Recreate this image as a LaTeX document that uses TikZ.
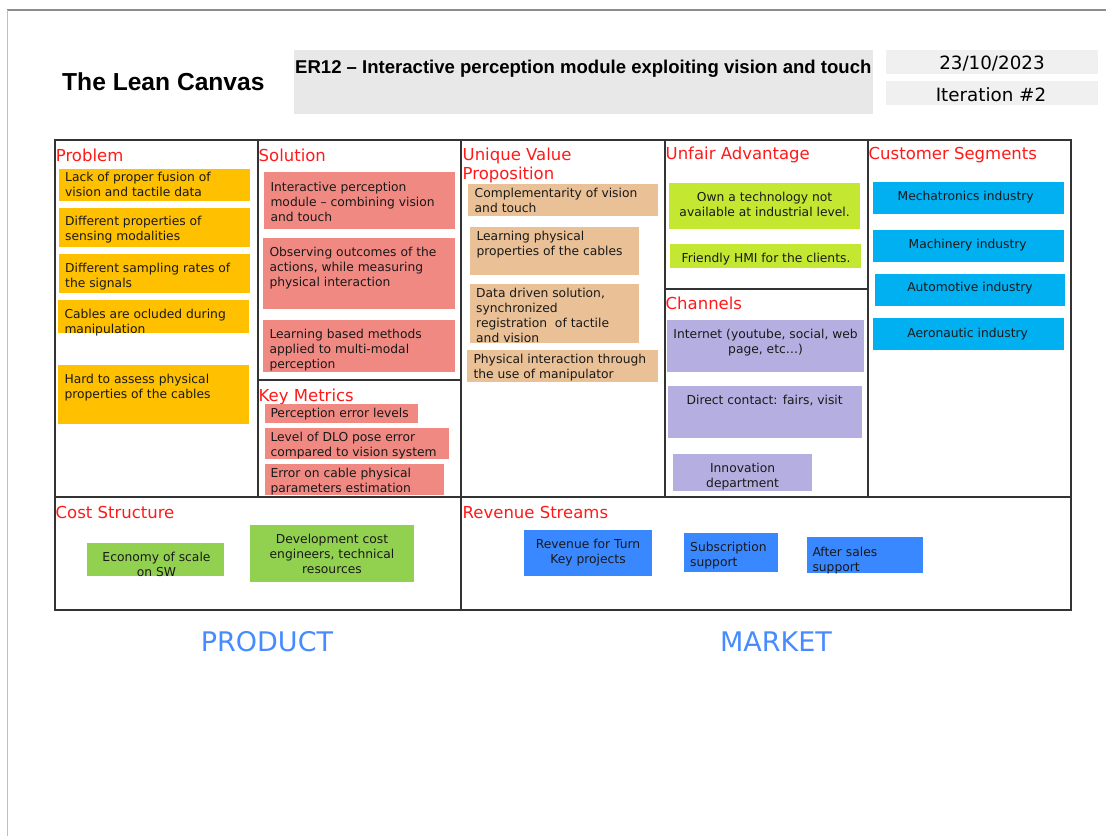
\documentclass[tikz,border=0pt]{standalone}
\usepackage{fontspec}
\setmainfont{DejaVu Sans}
\newfontfamily\arialfont{Liberation Sans}

\definecolor{probfill}{RGB}{255,192,0}
\definecolor{solfill}{RGB}{241,137,131}
\definecolor{uvpfill}{RGB}{234,193,150}
\definecolor{advfill}{RGB}{196,232,50}
\definecolor{chanfill}{RGB}{181,174,224}
\definecolor{custfill}{RGB}{0,176,240}
\definecolor{costfill}{RGB}{146,208,80}
\definecolor{revfill}{RGB}{58,136,255}
\definecolor{headred}{RGB}{255,25,25}
\definecolor{sideblue}{RGB}{70,140,255}

\begin{document}
\begin{tikzpicture}[x=1pt, y=-1pt,
	frame/.style={line width=1.3pt, draw=black!80},
	head/.style={anchor=base west, inner sep=0pt, text=headred, font=\fontsize{16.5}{20}\selectfont},
	txt/.style={anchor=north west, inner sep=0pt, yshift=-1pt, align=left, text=black!90, font=\fontsize{12.3}{15}\selectfont},
	ctxt/.style={txt, anchor=north, align=center},
	side/.style={inner sep=0pt, text=sideblue, font=\fontsize{27}{30}\selectfont}]
	\useasboundingbox (0,0) rectangle (1106,836);
	\fill[white] (0,0) rectangle (1106,836);
	% page edges
	\draw[line width=2pt, black!45] (7,10) -- (1106,10);
	\draw[line width=1pt, black!25] (7.5,10) -- (7.5,836);

	% header
	\node[anchor=base west, inner sep=0pt, font=\arialfont\bfseries\fontsize{24.6}{28}\selectfont] (title) at (62,90) {The Lean Canvas};
	\fill[black!9] (294,50) rectangle (873,114);
	\node[anchor=base west, inner sep=0pt, font=\arialfont\bfseries\fontsize{18.55}{22}\selectfont] (project) at (295,73.3) {ER12 – Interactive perception module exploiting vision and touch};
	\fill[black!6] (886,49.5) rectangle (1098,73.5);
	\node[anchor=base, inner sep=0pt, font=\fontsize{18.3}{22}\selectfont] (date) at (992,69.3) {23/10/2023};
	\fill[black!6] (886,81) rectangle (1098,105);
	\node[anchor=base, inner sep=0pt, font=\fontsize{18.3}{22}\selectfont] (iter) at (991,101) {Iteration \#2};

	% canvas grid
	\draw[frame] (55,140) rectangle (1071,610);
	\draw[frame] (55,497) -- (1071,497);
	\draw[frame] (258,140) -- (258,497);
	\draw[frame] (461,140) -- (461,610);
	\draw[frame] (665,140) -- (665,497);
	\draw[frame] (868,140) -- (868,497);
	\draw[frame] (258,380) -- (461,380);
	\draw[frame] (665,289) -- (868,289);

	% headings
	\node[head] (hprob) at (55.7,161) {Problem};
	\node[head] (hsol) at (258.5,161) {Solution};
	\node[head, anchor=north west, align=left, font=\fontsize{16.5}{19.5}\selectfont] (huvp) at (462.5,147.5) {Unique Value\\Proposition};
	\node[head] (hadv) at (665.5,159.5) {Unfair Advantage};
	\node[head] (hcust) at (868.5,159.5) {Customer Segments};
	\node[head] (hkm) at (258.5,401) {Key Metrics};
	\node[head] (hchan) at (665.5,309) {Channels};
	\node[head] (hcost) at (55.5,518.5) {Cost Structure};
	\node[head] (hrev) at (462.5,518.5) {Revenue Streams};

	% problem
	\fill[probfill] (59,169) rectangle (250,201);
	\node[txt] (prob1) at (65,171) {Lack of proper fusion of\\vision and tactile data};
	\fill[probfill] (59,208) rectangle (250,247);
	\node[txt] (prob2) at (65,215) {Different properties of\\sensing modalities};
	\fill[probfill] (59,254) rectangle (250,293);
	\node[txt] (prob3) at (65,261.5) {Different sampling rates of\\the signals};
	\fill[probfill] (58,300) rectangle (249,333);
	\node[txt] (prob4) at (64.3,308) {Cables are ocluded during\\manipulation};
	\fill[probfill] (58,365) rectangle (249,424);
	\node[txt] (prob5) at (64.3,372.5) {Hard to assess physical\\properties of the cables};

	% solution
	\fill[solfill] (264,172) rectangle (455,229);
	\node[txt] (sol1) at (270.3,180.5) {Interactive perception\\module – combining vision\\and touch};
	\fill[solfill] (263,238) rectangle (455,309);
	\node[txt] (sol2) at (269.3,245.5) {Observing outcomes of the\\actions, while measuring\\physical interaction};
	\fill[solfill] (263,320) rectangle (455,372);
	\node[txt] (sol3) at (269.3,327.5) {Learning based methods\\applied to multi-modal\\perception};

	% key metrics
	\fill[solfill] (265,404) rectangle (418,423);
	\node[txt] (km1) at (270.3,407) {Perception error levels};
	\fill[solfill] (265,428) rectangle (449,459);
	\node[txt] (km2) at (270.3,430.5) {Level of DLO pose error\\compared to vision system};
	\fill[solfill] (265,464) rectangle (444,495);
	\node[txt] (km3) at (270.3,466.5) {Error on cable physical\\parameters estimation};

	% unique value proposition
	\fill[uvpfill] (468,184) rectangle (658,216);
	\node[txt] (uvp1) at (474.5,187) {Complementarity of vision\\and touch};
	\fill[uvpfill] (470,227) rectangle (639,275);
	\node[txt] (uvp2) at (476.3,230) {Learning physical\\properties of the cables};
	\fill[uvpfill] (470,284) rectangle (639,343);
	\node[txt] (uvp3) at (476,286.5) {Data driven solution,\\synchronized\\registration\ \ of tactile\\and vision};
	\fill[uvpfill] (467,350) rectangle (658,382);
	\node[txt] (uvp4) at (473.3,353) {Physical interaction through\\the use of manipulator};

	% unfair advantage
	\fill[advfill] (669,183) rectangle (860,229);
	\node[ctxt] (adv1) at (764.6,191) {Own a technology not\\available at industrial level.};
	\fill[advfill] (670,244) rectangle (861,268);
	\node[ctxt] (adv2) at (766,251.5) {Friendly HMI for the clients.};

	% channels
	\fill[chanfill] (667,320) rectangle (864,372);
	\node[ctxt] (chan1) at (765.6,328) {Internet (youtube, social, web\\page, etc…)};
	\fill[chanfill] (668,386) rectangle (862,438);
	\node[ctxt] (chan2) at (764.7,394) {Direct contact: fairs, visit};
	\fill[chanfill] (673,454) rectangle (812,491);
	\node[ctxt] (chan3) at (742.6,462) {Innovation\\department};

	% customer segments
	\fill[custfill] (873,182) rectangle (1064,214);
	\node[ctxt] (cust1) at (965.7,190) {Mechatronics industry};
	\fill[custfill] (873,230) rectangle (1064,262);
	\node[ctxt] (cust2) at (967.7,238) {Machinery industry};
	\fill[custfill] (875,274) rectangle (1065,306);
	\node[ctxt] (cust3) at (970,281) {Automotive industry};
	\fill[custfill] (873,318) rectangle (1064,350);
	\node[ctxt] (cust4) at (967.7,326.5) {Aeronautic industry};

	% cost structure
	\fill[costfill] (87,543) rectangle (224,576);
	\node[ctxt] (cost1) at (156.5,551) {Economy of scale\\on SW};
	\fill[costfill] (250,525) rectangle (414,582);
	\node[ctxt] (cost2) at (332,532.5) {Development cost\\engineers, technical\\resources};

	% revenue streams
	\fill[revfill] (523.5,530) rectangle (652.3,575.7);
	\node[ctxt] (rev1) at (588,538) {Revenue for Turn\\Key projects};
	\fill[revfill] (684.3,533.3) rectangle (777.7,571.7);
	\node[txt] (rev2) at (690,540.5) {Subscription\\support};
	\fill[revfill] (807,537.3) rectangle (923,572.7);
	\node[txt] (rev3) at (812.3,545.5) {After sales\\support};

	% bottom labels
	\node[side] (product) at (267,642) {PRODUCT};
	\node[side] (market) at (776,642) {MARKET};
\end{tikzpicture}
\end{document}
